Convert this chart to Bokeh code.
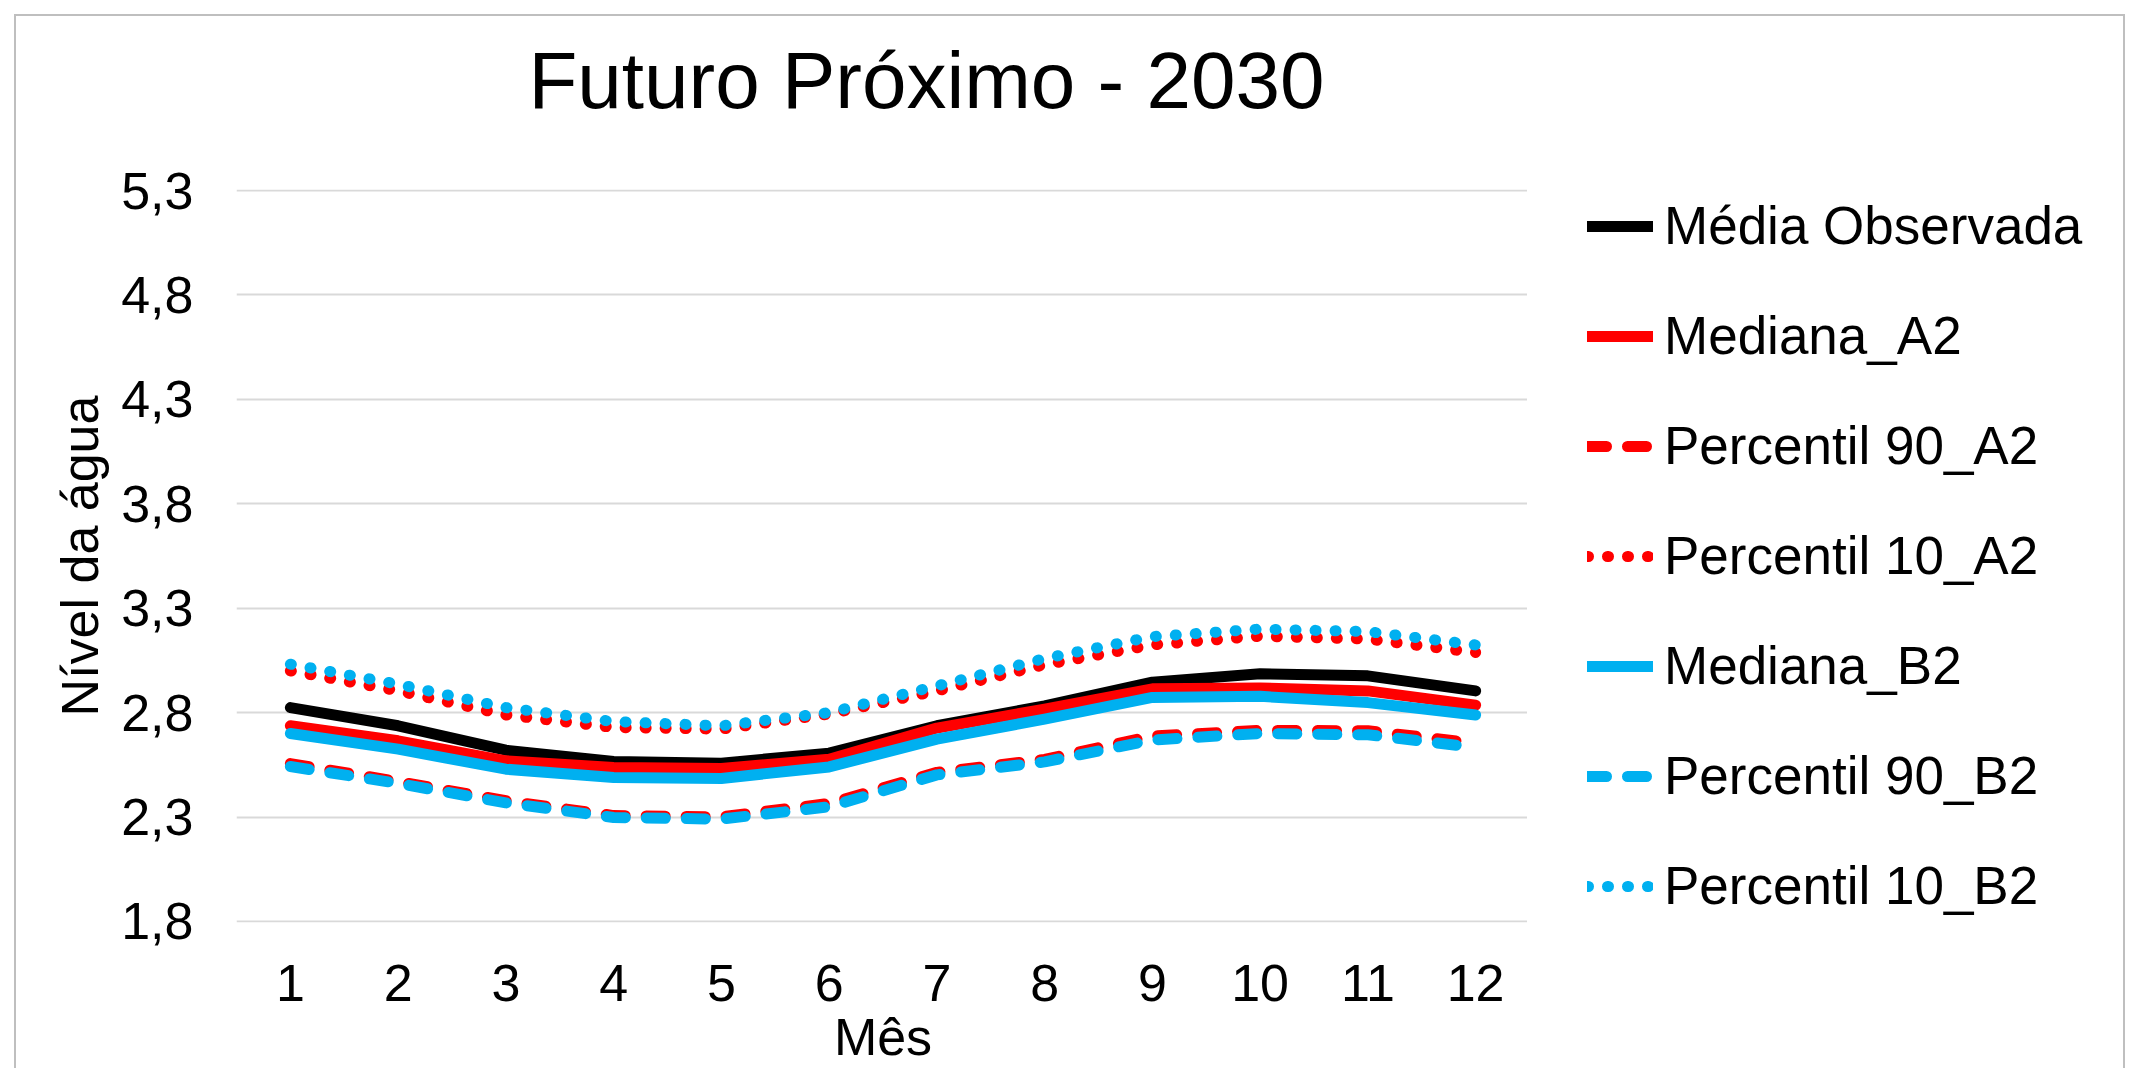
from bokeh.plotting import figure
from bokeh.layouts import row
from bokeh.models import Range1d, FixedTicker, Legend, LegendItem, Title
from bokeh.embed import file_html
from bokeh.resources import INLINE

# ---------------- data ----------------
months = [1, 2, 3, 4, 5, 6, 7, 8, 9, 10, 11, 12]
month_labels = ["1", "2", "3", "4", "5", "6", "7", "8", "9", "10", "11", "12"]

media_observada = [2.824, 2.737, 2.620, 2.566, 2.558, 2.606, 2.737, 2.832, 2.946, 2.986, 2.976, 2.904]
mediana_a2      = [2.737, 2.665, 2.569, 2.537, 2.532, 2.577, 2.726, 2.817, 2.914, 2.918, 2.904, 2.836]
percentil90_a2  = [2.556, 2.470, 2.378, 2.307, 2.301, 2.365, 2.514, 2.576, 2.688, 2.715, 2.713, 2.654]
percentil10_a2  = [3.000, 2.904, 2.789, 2.729, 2.721, 2.793, 2.904, 3.029, 3.124, 3.166, 3.152, 3.088]
mediana_b2      = [2.700, 2.625, 2.529, 2.489, 2.485, 2.540, 2.673, 2.769, 2.873, 2.878, 2.848, 2.789]
percentil90_b2  = [2.542, 2.461, 2.368, 2.298, 2.290, 2.349, 2.502, 2.564, 2.669, 2.700, 2.694, 2.633]
percentil10_b2  = [3.032, 2.936, 2.824, 2.757, 2.737, 2.800, 2.928, 3.059, 3.164, 3.200, 3.188, 3.124]

series_names = ["Média Observada", "Mediana_A2", "Percentil 90_A2", "Percentil 10_A2",
                "Mediana_B2", "Percentil 90_B2", "Percentil 10_B2"]
series_values = [media_observada, mediana_a2, percentil90_a2, percentil10_a2,
                 mediana_b2, percentil90_b2, percentil10_b2]

y_ticks = [1.8, 2.3, 2.8, 3.3, 3.8, 4.3, 4.8, 5.3]
y_tick_labels = ["1,8", "2,3", "2,8", "3,3", "3,8", "4,3", "4,8", "5,3"]

title_text = "Futuro Próximo - 2030"
x_title = "Mês"
y_title = "Nível da água"

# ---------------- styles ----------------
FONT = "Liberation Sans"
BLACK = "#000000"
RED = "#FF0000"
BLUE = "#00B0F0"
FRAME = "2px solid #BFBFBF"
SHIFT = "translate(14px, 14px)"
SOLID = "solid"
DASH = "19 21"
DOT = "1 19"
series_colors = [BLACK, RED, RED, RED, BLUE, BLUE, BLUE]
series_dashes = [SOLID, SOLID, DASH, DOT, SOLID, DASH, DOT]

# ---------------- main chart ----------------
p = figure(width=1513, height=1054, output_backend="svg", toolbar_location=None,
           x_range=Range1d(0.5, 12.5), y_range=Range1d(1.795, 5.305),
           min_border_left=220, min_border_right=0, min_border_top=173, min_border_bottom=148)
p.styles = {"border-left": FRAME, "border-top": FRAME, "transform": SHIFT}
p.background_fill_color = "white"
p.border_fill_color = "white"
p.outline_line_color = None

p.xgrid.visible = False
p.ygrid.ticker = FixedTicker(ticks=y_ticks)
p.ygrid.grid_line_color = "#D9D9D9"
p.ygrid.grid_line_width = 2

p.yaxis.ticker = FixedTicker(ticks=y_ticks)
p.yaxis.major_label_overrides = dict(zip(y_ticks, y_tick_labels))
p.xaxis.ticker = FixedTicker(ticks=months)
p.xaxis.major_label_overrides = dict(zip(months, month_labels))
for ax in p.axis:
    ax.axis_line_color = None
    ax.major_tick_line_color = None
    ax.minor_tick_line_color = None
    ax.major_tick_in = 0
    ax.major_tick_out = 0
    ax.minor_tick_in = 0
    ax.minor_tick_out = 0
    ax.major_label_text_font = FONT
    ax.major_label_text_font_size = "52px"
    ax.major_label_text_color = BLACK
    ax.axis_label_text_font = FONT
    ax.axis_label_text_font_size = "52px"
    ax.axis_label_text_font_style = "normal"
    ax.axis_label_text_color = BLACK
p.yaxis.major_label_standoff = 43
p.xaxis.major_label_standoff = 42
p.yaxis.axis_label = y_title
p.yaxis.axis_label_standoff = 9
p.xaxis.axis_label = x_title
p.xaxis.axis_label_standoff = 4

for vals, color, dash in zip(series_values, series_colors, series_dashes):
    p.line(months, vals, line_color=color, line_width=11, line_dash=dash,
           line_cap="round", line_join="round")

# spacer title (nearest to the frame) then the real title above it
spacer = Title(text=" ", text_font_size="1px", standoff=62)
p.add_layout(spacer, "above")
main_title = Title(text=title_text, align="left", offset=292, standoff=0,
                   text_font=FONT, text_font_size="80px", text_font_style="normal",
                   text_color=BLACK, vertical_align="bottom")
p.add_layout(main_title, "above")

# ---------------- legend panel (its own figure, same series styles) ----------------
lg = figure(width=598, height=1054, output_backend="svg", toolbar_location=None,
            x_range=Range1d(100, 101), y_range=Range1d(1.795, 5.305),
            x_axis_type=None, y_axis_type=None,
            min_border_left=0, min_border_right=0, min_border_top=0, min_border_bottom=0)
lg.styles = {"border-top": FRAME, "border-right": FRAME, "transform": SHIFT}
lg.background_fill_color = "white"
lg.border_fill_color = "white"
lg.outline_line_color = None

items = []
for name, vals, color, dash in zip(series_names, series_values, series_colors, series_dashes):
    r = lg.line(months, vals, line_color=color, line_width=11, line_dash=dash,
                line_cap="round", line_join="round")
    items.append(LegendItem(label=name, renderers=[r]))

legend = Legend(items=items, location="center_left", orientation="vertical",
                glyph_width=66, glyph_height=110, label_height=110, spacing=0,
                padding=0, margin=60, label_standoff=11,
                label_text_font=FONT, label_text_font_size="53px", label_text_color=BLACK,
                border_line_color=None, background_fill_alpha=0)
lg.add_layout(legend)

layout = row(p, lg, spacing=0)
open("out.html", "w").write(file_html(layout, INLINE))
